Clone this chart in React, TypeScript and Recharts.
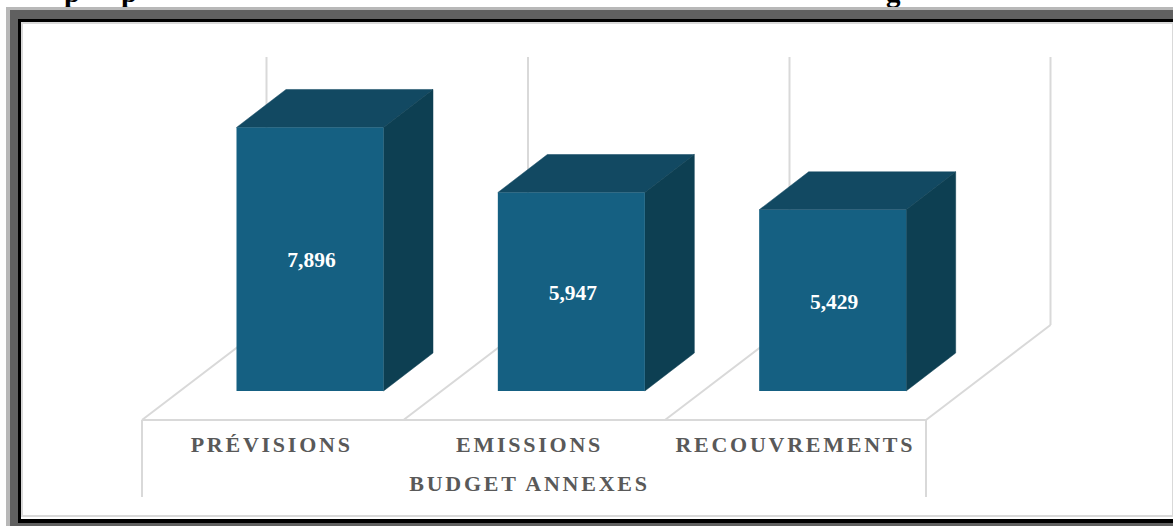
import { Bar, BarChart, LabelList, XAxis, YAxis } from 'recharts';

const categories = ['PRÉVISIONS', 'EMISSIONS', 'RECOUVREMENTS'];
const valeurs = [7896, 5947, 5429];
const groupe = 'BUDGET ANNEXES';

const data = categories.map((nom, i) => ({ nom, valeur: valeurs[i] }));

const W = 1173;
const H = 526;
const FONT = '"Liberation Serif", "Times New Roman", serif';

// repere du plancher 3D
const floorX = [142, 403.5, 665, 926];
const floorY = 420;
const floorDx = 124.5;
const floorDy = 95;
const wallTop = 57;
const floorDrop = 77;
const barShift = 38;
const barDx = 49.5;
const barDy = 38;
const tickNudge = [0.5, -3, 1.5];

function Walls() {
  const stroke = '#d9d9d9';
  return (
    <svg width={W} height={H} style={{ position: 'absolute', left: 0, top: 0 }}>
      {floorX.map((x) => (
        <g key={x} stroke={stroke} strokeWidth={2} fill="none">
          <line x1={x} y1={floorY} x2={x + floorDx} y2={floorY - floorDy} />
          <line x1={x + floorDx} y1={floorY - floorDy} x2={x + floorDx} y2={wallTop} />
        </g>
      ))}
      <g stroke={stroke} strokeWidth={2} fill="none">
        <line x1={floorX[0]} y1={floorY} x2={floorX[3]} y2={floorY} />
        <line x1={floorX[0]} y1={floorY} x2={floorX[0]} y2={floorY + floorDrop} />
        <line x1={floorX[3]} y1={floorY} x2={floorX[3]} y2={floorY + floorDrop} />
      </g>
    </svg>
  );
}

function Bar3D({ x, y, width, height }: any) {
  const r = x + width;
  const b = y + height;
  return (
    <g>
      <polygon
        points={`${x},${y} ${x + barDx},${y - barDy} ${r + barDx},${y - barDy} ${r},${y}`}
        fill="#124962"
        stroke="#124962"
        strokeWidth={0.5}
      />
      <polygon
        points={`${r},${y} ${r + barDx},${y - barDy} ${r + barDx},${b - barDy} ${r},${b}`}
        fill="#0d3f52"
        stroke="#0d3f52"
        strokeWidth={0.5}
      />
      <rect x={x} y={y} width={width} height={height} fill="#156082" />
    </g>
  );
}

function Tick({ x, y, payload, index }: any) {
  return (
    <text
      x={x - barShift - 1 + (tickNudge[index] ?? 0)}
      y={y + 53}
      textAnchor="middle"
      fontFamily={FONT}
      fontWeight="bold"
      fontSize={22}
      letterSpacing={2.75}
      fill="#595959"
    >
      {payload.value}
    </text>
  );
}

function Frame() {
  const layer = (style: any, children?: any) => (
    <div style={{ position: 'absolute', boxSizing: 'border-box', ...style }}>{children}</div>
  );
  return (
    <>
      {layer({ left: 6, top: 7, width: W, height: H, background: '#b8b8b8' })}
      {layer({ left: 10, top: 9.5, width: W, height: H, background: '#606060' })}
      {layer({ left: 18, top: 19, width: W, height: 503.5, background: '#000' })}
      {layer({ left: 21, top: 22, width: W, height: 497, background: '#fff' })}
      {layer({ left: 21, top: 22, width: W, height: 2, background: '#d9d9d9' })}
      {layer({ left: 21, top: 22, width: 1.5, height: 494, background: '#d9d9d9' })}
      {layer({ left: 21, top: 514.5, width: W, height: 2, background: '#d9d9d9' })}
      {layer({ left: 1172, top: 22, width: 1, height: 494, background: '#d9d9d9' })}
    </>
  );
}

// seul le bas du titre reste visible en haut de l'image
function TitreCoupe() {
  const lettres = [
    { c: 'p', x: 64 },
    { c: 'p', x: 121 },
    { c: 'g', x: 886 },
  ];
  return (
    <div style={{ position: 'absolute', left: 0, top: 0, width: W, height: 7, overflow: 'hidden' }}>
      {lettres.map((l) => (
        <span
          key={l.x}
          style={{
            position: 'absolute',
            left: l.x,
            top: -24,
            fontFamily: FONT,
            fontWeight: 'bold',
            fontSize: 29,
            lineHeight: '32px',
            color: '#000',
          }}
        >
          {l.c}
        </span>
      ))}
    </div>
  );
}

export default function App() {
  return (
    <div style={{ position: 'absolute', left: 0, top: 0, width: W, height: H, overflow: 'hidden', background: '#fff' }}>
      <TitreCoupe />
      <Frame />
      <Walls />
      <div style={{ position: 'absolute', left: 0, top: 0 }}>
        <BarChart
          width={W}
          height={H}
          data={data}
          margin={{ top: 124, right: 209.5, bottom: 0, left: 179.5 }}
          barCategoryGap={0}
        >
          <XAxis
            dataKey="nom"
            height={135}
            axisLine={false}
            tickLine={false}
            interval={0}
            tick={<Tick />}
            label={{
              value: groupe,
              position: 'insideBottom',
              offset: 35,
              dx: -42,
              style: {
                fontFamily: FONT,
                fontWeight: 'bold',
                fontSize: 22,
                letterSpacing: 2.75,
                fill: '#595959',
              },
            }}
          />
          <YAxis hide domain={[0, 8000]} />
          <Bar dataKey="valeur" barSize={147} shape={<Bar3D />} isAnimationActive={false}>
            <LabelList
              dataKey="valeur"
              position="center"
              dx={1.5}
              dy={0.5}
              formatter={(v: any) => Number(v).toLocaleString('en-US')}
              style={{ fontFamily: FONT, fontWeight: 'bold', fontSize: 21.5, fill: '#fff' }}
            />
          </Bar>
        </BarChart>
      </div>
    </div>
  );
}
